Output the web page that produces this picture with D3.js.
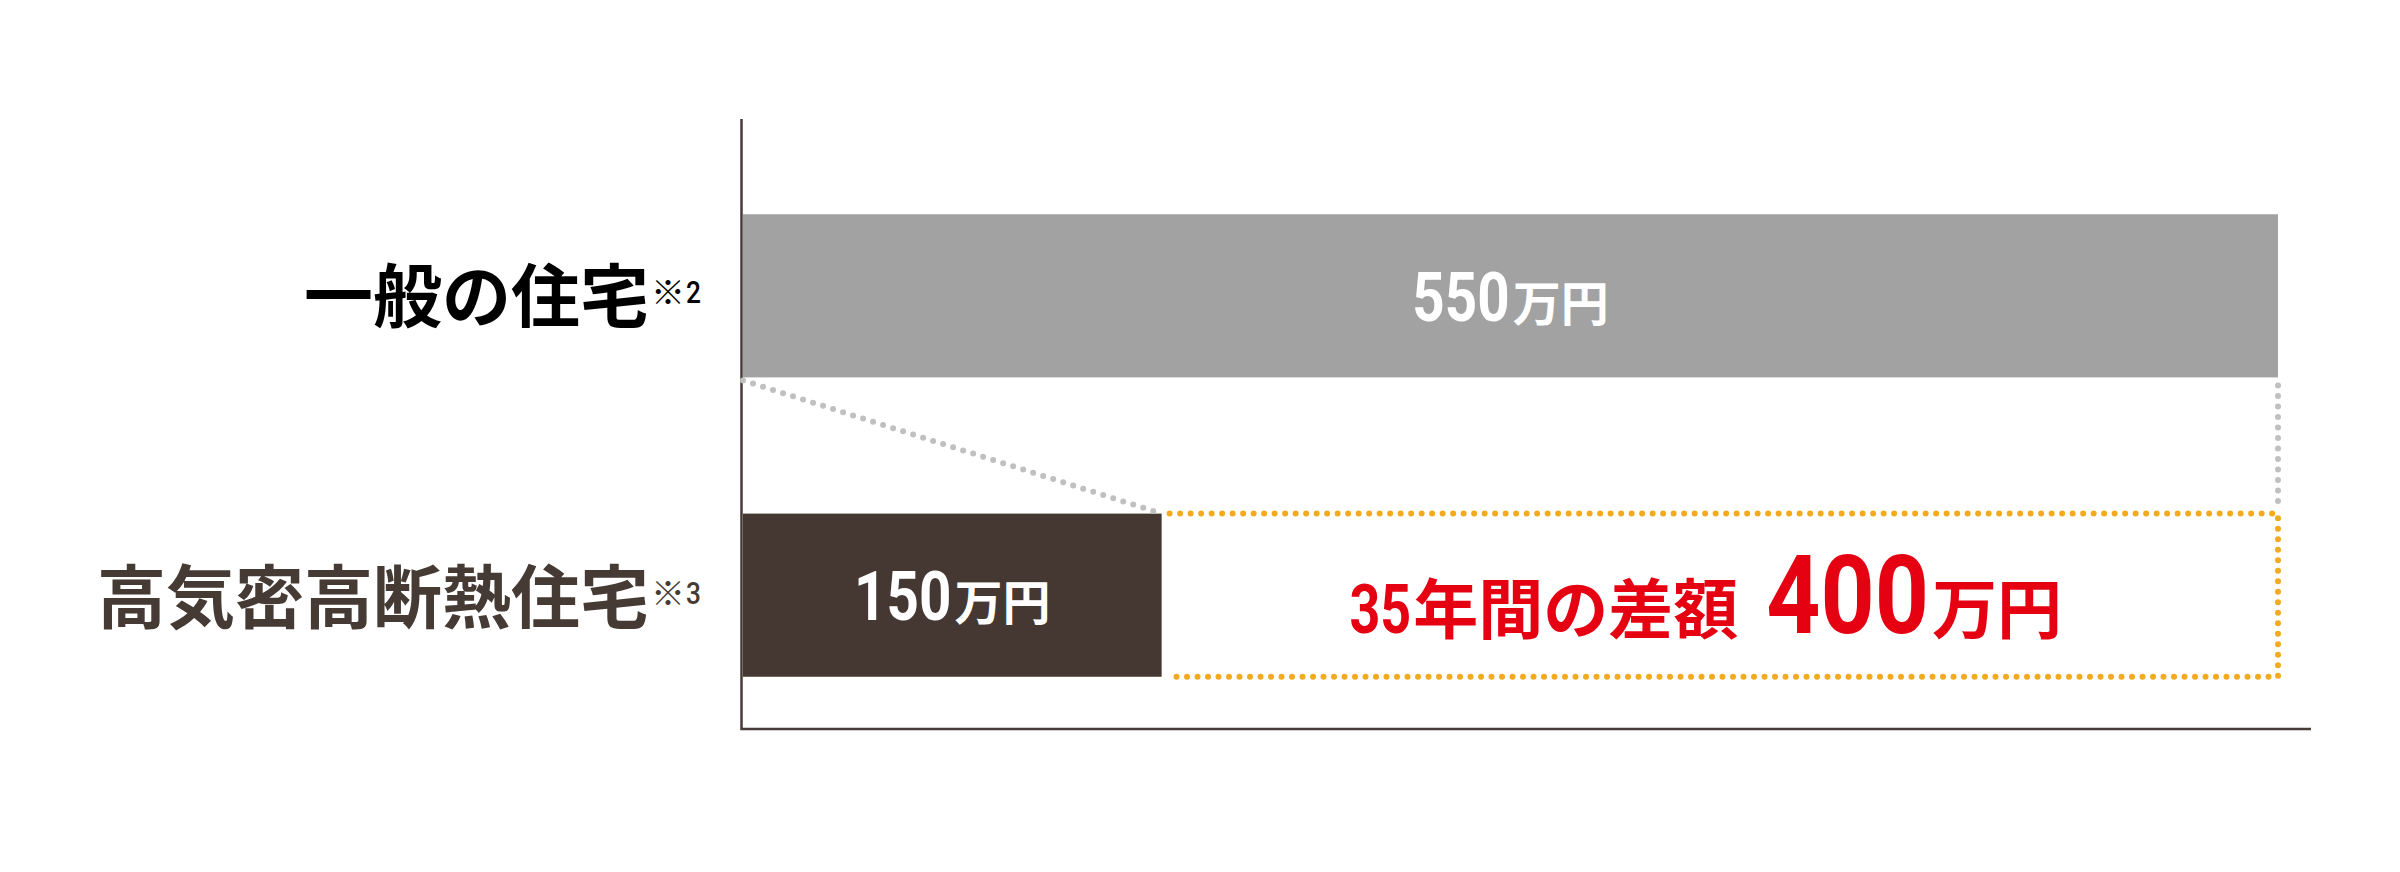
<!DOCTYPE html>
<html>
<head>
<meta charset="utf-8">
<script src="https://cdn.jsdelivr.net/npm/d3@7"></script>
<style>
  body { margin: 0; background: #fff; }
</style>
</head>
<body>
<div id="chart"></div>
<script>
// data
var categories = ["一般の住宅", "高気密高断熱住宅"]
var notes = ["2", "3"]
var costs = [550, 150]
var unit = "万円"
var diffLabel = "35年間の差額"

var barColors = ["#a2a2a2", "#453731"]
var labelColors = ["#000000", "#453a34"]

var cjk = "'Noto Sans CJK JP', 'Noto Sans CJK SC', sans-serif"
var num = "Roboto, 'Liberation Sans', sans-serif"

var W = 2400, H = 872

var svg = d3.select("#chart")
    .append("svg")
    .attr("width", W)
    .attr("height", H)

var x = d3.scaleLinear()
    .domain([0, d3.max(costs)])
    .range([743, 2278])

var y = d3.scaleBand()
    .domain(categories)
    .range([146, 745])
    .paddingInner(0.455)
    .paddingOuter(0.228)

var bw = y.bandwidth()

// writes a row of text pieces (different sizes/fonts) and anchors the whole row
function richText(parent, parts, px, py, anchor, fill) {
    var g = parent.append("g")
    var cursor = 0
    parts.forEach(function (p) {
        var t = g.append("text")
            .attr("font-family", p.family)
            .attr("font-weight", p.weight || 700)
            .attr("font-size", p.size)
            .attr("fill", fill)
            .text(p.text)
        var sx = p.sx || 1
        var w = t.node().getComputedTextLength() * sx
        cursor += (p.before || 0)
        t.attr("transform", "translate(" + cursor + "," + (p.dy || 0) + ") scale(" + sx + ",1)")
        cursor += w
    })
    var off = anchor == "middle" ? -cursor / 2 : anchor == "end" ? -cursor : 0
    g.attr("transform", "translate(" + (px + off) + "," + py + ")")
    return g
}

// bars
svg.selectAll(".bar")
    .data(costs)
    .enter()
    .append("rect")
    .attr("class", "bar")
    .attr("x", x(0))
    .attr("y", (d, i) => y(categories[i]))
    .attr("width", d => x(d) - x(0))
    .attr("height", bw)
    .attr("fill", (d, i) => barColors[i])

// axis lines
svg.append("path")
    .attr("d", "M" + (x(0) - 1.5) + ",119 V" + 729 + " H2311")
    .attr("fill", "none")
    .attr("stroke", "#463b37")
    .attr("stroke-width", 2.5)

// category labels
categories.forEach(function (c, i) {
    var cy = y(c) + bw / 2
    richText(svg, [
        { text: c, size: 69, family: cjk, weight: 700 },
        { text: "※", size: 34, family: cjk, weight: 400, dy: -17, before: 2 },
        { text: notes[i], size: 32, family: num, weight: 500, dy: -19, sx: 0.82, before: 1 }
    ], 701, cy + (i == 0 ? 26 : 28), "end", labelColors[i])
})

// value labels in the bars
costs.forEach(function (v, i) {
    var cy = y(categories[i]) + bw / 2
    richText(svg, [
        { text: String(v), size: 69, family: num, sx: 0.82 },
        { text: unit, size: 48, family: cjk, before: 3 }
    ], (x(0) + x(v)) / 2, cy + 25, "middle", "#ffffff")
})

// dotted guides
var topY = y(categories[0]) + bw
var lowY = y(categories[1])
var lowB = lowY + bw
var big = d3.max(costs), small = d3.min(costs)

var dots = svg.append("g")
    .attr("fill", "none")
    .attr("stroke-width", 6)
    .attr("stroke-linecap", "round")
    .attr("stroke-dasharray", "0,10.5")

dots.append("path")
    .attr("d", "M" + x(0) + "," + (topY + 3) + " L" + x(small) + "," + lowY)
    .attr("stroke", "#c0c0c0")

dots.append("path")
    .attr("d", "M" + x(big) + "," + (topY + 8) + " V" + (lowY - 6))
    .attr("stroke", "#c0c0c0")

dots.append("path")
    .attr("d", "M" + (x(small) + 8) + "," + lowY + " H" + x(big) + " V" + lowB + " H" + (x(small) + 8))
    .attr("stroke", "#f4aa1f")

// difference text
var diff = big - small
richText(svg, [
    { text: diffLabel.slice(0, 2), size: 69, family: num, sx: 0.78 },
    { text: diffLabel.slice(2), size: 65, family: cjk, before: 2 },
    { text: String(diff), size: 110, family: num, sx: 0.86, before: 28 },
    { text: unit, size: 65, family: cjk, before: 3 }
], (x(small) + x(big)) / 2 - 14, lowY + bw / 2 + 38, "middle", "#e50012")
</script>
</body>
</html>
